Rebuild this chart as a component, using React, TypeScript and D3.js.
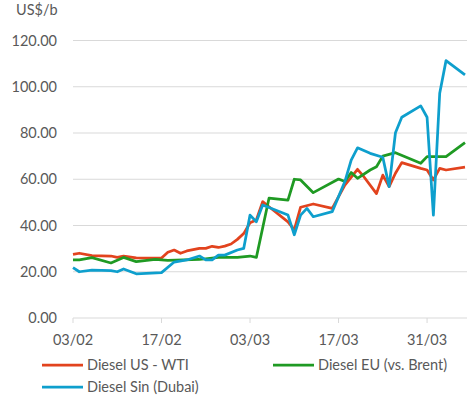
import React from 'react';
import * as d3 from 'd3';

// Diesel cracks, US$/b
const usDates = ['2022-02-03','2022-02-04','2022-02-06','2022-02-09','2022-02-10','2022-02-11','2022-02-13','2022-02-17','2022-02-18','2022-02-19','2022-02-20','2022-02-21','2022-02-23','2022-02-24','2022-02-25','2022-02-26','2022-02-27','2022-02-28','2022-03-01','2022-03-02','2022-03-03','2022-03-04','2022-03-05','2022-03-06','2022-03-09','2022-03-10','2022-03-11','2022-03-13','2022-03-16','2022-03-18','2022-03-20','2022-03-21','2022-03-23','2022-03-24','2022-03-25','2022-03-26','2022-03-27','2022-03-30','2022-03-31','2022-04-01','2022-04-02','2022-04-03','2022-04-06'];
const usValues = [27.5,28,27,26.8,26.2,26.8,26,25.9,28.4,29.4,28,29,30.1,30.1,31,30.5,31.1,32,34,36.5,41.2,42.4,50.3,48.1,41.6,38.1,47.9,49.3,47.4,57.5,64.3,61.1,53.8,61.8,56.8,62.6,67.2,64.7,64,59.7,64.7,64,65.2];

const euDates = ['2022-02-03','2022-02-04','2022-02-06','2022-02-09','2022-02-11','2022-02-13','2022-02-16','2022-02-18','2022-02-23','2022-02-26','2022-03-01','2022-03-03','2022-03-04','2022-03-06','2022-03-09','2022-03-10','2022-03-11','2022-03-13','2022-03-17','2022-03-18','2022-03-19','2022-03-20','2022-03-22','2022-03-23','2022-03-24','2022-03-26','2022-03-30','2022-03-31','2022-04-03','2022-04-06'];
const euValues = [25.1,25.1,26.1,23.8,26.2,24.4,25.4,24.9,25.3,26.2,26.2,26.8,26.2,51.8,51,60,59.7,54.2,60.1,59,62.9,60.4,64,65.4,70,71.5,66.9,69.8,69.8,75.8];

const sinDates = ['2022-02-03','2022-02-04','2022-02-06','2022-02-09','2022-02-10','2022-02-11','2022-02-13','2022-02-17','2022-02-19','2022-02-21','2022-02-23','2022-02-24','2022-02-25','2022-02-26','2022-02-27','2022-03-01','2022-03-02','2022-03-03','2022-03-04','2022-03-05','2022-03-09','2022-03-10','2022-03-11','2022-03-12','2022-03-13','2022-03-16','2022-03-17','2022-03-18','2022-03-19','2022-03-20','2022-03-22','2022-03-24','2022-03-25','2022-03-26','2022-03-27','2022-03-30','2022-03-31','2022-04-01','2022-04-02','2022-04-03','2022-04-06'];
const sinValues = [21.8,20,20.7,20.5,20,21.2,19.1,19.6,24.2,25.1,26.8,25.1,25.1,27.2,27.2,29.4,30.1,44.5,41.6,48.9,44.5,36,44.5,47.4,43.8,46,52.5,59,68.3,73.6,71.2,69.5,56.8,80.1,86.8,91.7,86.8,44.5,97.2,111.3,105.1];

const seriesNames = ['Diesel US - WTI', 'Diesel EU (vs. Brent)', 'Diesel Sin (Dubai)'];
const seriesColors = ['#E2431E', '#1F9A23', '#0E9FCD'];
const tickDates = ['2022-02-03', '2022-02-17', '2022-03-03', '2022-03-17', '2022-03-31'];
const yTicks = [0, 20, 40, 60, 80, 100, 120];

const parse = d3.utcParse('%Y-%m-%d');
const fmt = d3.utcFormat('%d/%m');

export default function App() {
  const left = 73, right = 465, top = 40.5, bottom = 318;

  const x = d3.scaleUtc()
    .domain([parse('2022-02-03')!, parse('2022-04-06')!])
    .range([left, right]);
  const y = d3.scaleLinear().domain([0, 120]).range([bottom, top]);

  const line = d3.line<[Date, number]>()
    .x(d => x(d[0]))
    .y(d => y(d[1]));

  const series = [
    d3.zip(usDates.map(s => parse(s)!), usValues) as [Date, number][],
    d3.zip(euDates.map(s => parse(s)!), euValues) as [Date, number][],
    d3.zip(sinDates.map(s => parse(s)!), sinValues) as [Date, number][],
  ];

  const font = 'Lato, "Open Sans", sans-serif';
  const textCol = '#595959';
  const fs = 14.5;

  const legend = [
    { x: 42, y: 365 },
    { x: 273, y: 365 },
    { x: 42, y: 387 },
  ];

  return (
    <svg width={473} height={400} style={{ position: 'absolute', left: 0, top: 0, background: '#fff' }}
      fontFamily={font}>
      <text x={16} y={15} fontSize={fs} fill={textCol}>US$/b</text>

      {yTicks.map(t => (
        <g key={t}>
          <line x1={left} x2={right + 2} y1={y(t)} y2={y(t)} stroke="#d9d9d9" strokeWidth={1} />
          <text x={57} y={y(t)} dy="0.35em" textAnchor="end" fontSize={fs} fill={textCol}>
            {t.toFixed(2)}
          </text>
        </g>
      ))}

      {tickDates.map(s => {
        const d = parse(s)!;
        return (
          <g key={s}>
            <line x1={x(d)} x2={x(d)} y1={bottom} y2={bottom + 5} stroke="#d9d9d9" />
            <text x={x(d)} y={345} textAnchor="middle" fontSize={fs} fill={textCol}>{fmt(d)}</text>
          </g>
        );
      })}

      {series.map((s, i) => (
        <path key={i} d={line(s) ?? ''} fill="none" stroke={seriesColors[i]}
          strokeWidth={2.75} strokeLinejoin="round" />
      ))}

      {seriesNames.map((n, i) => (
        <g key={n}>
          <line x1={legend[i].x} x2={legend[i].x + 41} y1={legend[i].y} y2={legend[i].y}
            stroke={seriesColors[i]} strokeWidth={2.75} />
          <text x={legend[i].x + 45} y={legend[i].y} dy="0.35em" fontSize={fs} fill={textCol}>{n}</text>
        </g>
      ))}
    </svg>
  );
}
